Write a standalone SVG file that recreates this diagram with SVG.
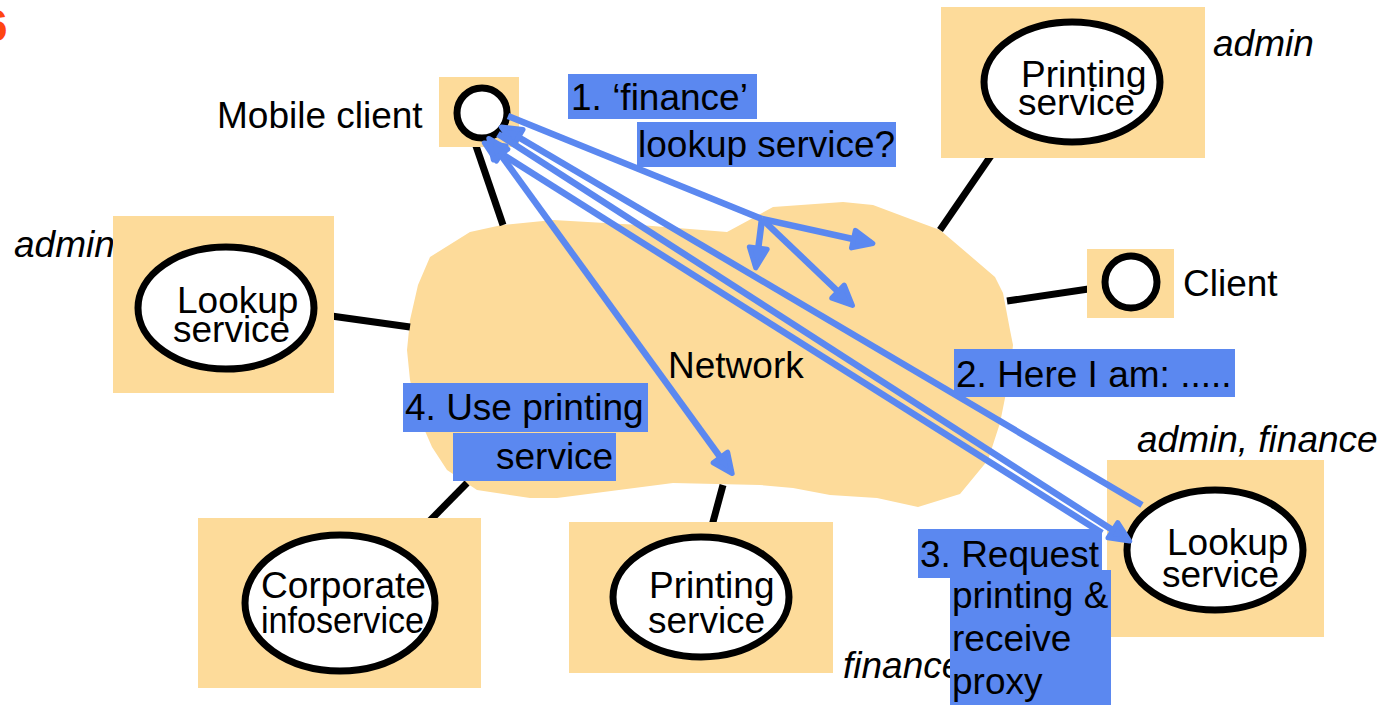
<svg xmlns="http://www.w3.org/2000/svg" width="1384" height="705" viewBox="0 0 1384 705">
<style>
  text { font-family: "Liberation Sans", Arial, Helvetica, sans-serif; font-size: 37px; fill: #000; }
  .it { font-style: italic; }
  .bg { fill: #fddb9a; }
  .node { fill: #fff; stroke: #000; stroke-width: 7; }
  .conn { stroke: #000; stroke-width: 7; fill: none; }
  .msg { stroke: #5b88f0; stroke-width: 6.5; fill: none; }
  .lbl { fill: #5b88f0; }
</style>
<defs>
  <marker id="ah" viewBox="-5 -15 32 30" markerWidth="32" markerHeight="30" refX="18" refY="0" orient="auto-start-reverse" markerUnits="userSpaceOnUse">
    <path d="M0,-9 L20,0 L0,9 Z" fill="#5b88f0" stroke="#5b88f0" stroke-width="5" stroke-linejoin="round"/>
  </marker>
</defs>

<text x="-17" y="41" style="font-size:44px;font-weight:bold;fill:#ff4411">6</text>

<g id="network">
  <polygon class="bg" points="430,257 470,232 502,225 553,220 640,225 727,232 773,207 843,202 873,205 913,220 940,230 967,253 995,277 1003,293 1010,330 1013,345 1010,373 1000,423 988,460 960,494 918,507 877,498 830,495 793,488 760,485 673,483 557,498 530,498 477,490 447,470 432,447 418,415 410,380 407,350 410,320 418,285"/>
  <text x="668" y="378">Network</text>
</g>

<g id="connectors">
  <line class="conn" x1="475" y1="143" x2="503" y2="225"/>
  <line class="conn" x1="1010" y1="128" x2="940" y2="230"/>
  <line class="conn" x1="1102" y1="287" x2="1007" y2="301"/>
  <line class="conn" x1="317" y1="314" x2="410" y2="327"/>
  <line class="conn" x1="467" y1="483" x2="403" y2="548"/>
  <line class="conn" x1="723" y1="485" x2="710" y2="533"/>
</g>

<g id="mobile-client">
  <rect class="bg" x="439" y="77" width="80" height="70"/>
  <circle class="node" cx="482" cy="113" r="25"/>
  <text x="217" y="128">Mobile client</text>
</g>

<g id="printing-service-admin">
  <rect class="bg" x="941" y="7" width="264" height="151"/>
  <ellipse class="node" cx="1072" cy="82" rx="88" ry="60"/>
  <text x="1021" y="87">Printing</text>
  <text x="1018" y="115">service</text>
  <text class="it" x="1213" y="56">admin</text>
</g>

<g id="client">
  <rect class="bg" x="1087" y="249" width="87" height="69"/>
  <circle class="node" cx="1131" cy="282" r="26"/>
  <text x="1183" y="296">Client</text>
</g>

<g id="lookup-service-admin">
  <text class="it" x="14" y="257">admin</text>
  <rect class="bg" x="113" y="216" width="221" height="177"/>
  <ellipse class="node" cx="226" cy="308" rx="88" ry="61"/>
  <text x="177" y="313">Lookup</text>
  <text x="173" y="342">service</text>
</g>

<g id="corporate-infoservice">
  <rect class="bg" x="198" y="518" width="283" height="170"/>
  <ellipse class="node" cx="340" cy="603" rx="95" ry="68"/>
  <text x="261" y="598" textLength="165" lengthAdjust="spacingAndGlyphs">Corporate</text>
  <text x="261" y="633" textLength="163" lengthAdjust="spacingAndGlyphs">infoservice</text>
</g>

<g id="printing-service-finance">
  <rect class="bg" x="569" y="522" width="264" height="151"/>
  <ellipse class="node" cx="701" cy="597" rx="88" ry="60"/>
  <text x="649" y="598">Printing</text>
  <text x="648" y="633">service</text>
  <text class="it" x="843" y="678">finance</text>
</g>

<g id="lookup-service-finance">
  <text class="it" x="1137" y="452">admin, finance</text>
  <rect class="bg" x="1107" y="460" width="217" height="177"/>
  <ellipse class="node" cx="1215" cy="550" rx="88" ry="60"/>
  <text x="1167" y="555">Lookup</text>
  <text x="1162" y="587">service</text>
</g>

<g id="messages">
  <line class="msg" x1="508" y1="116" x2="762" y2="219"/>
  <line class="msg" x1="762" y1="219" x2="871" y2="243" marker-end="url(#ah)"/>
  <line class="msg" x1="762" y1="219" x2="756" y2="266" marker-end="url(#ah)"/>
  <line class="msg" x1="762" y1="219" x2="851" y2="304" marker-end="url(#ah)"/>
  <line class="msg" x1="1142" y1="505" x2="503" y2="128" marker-end="url(#ah)"/>
  <line class="msg" x1="498" y1="134" x2="1128" y2="540" marker-end="url(#ah)"/>
  <line class="msg" x1="1102" y1="533" x2="486" y2="144" marker-end="url(#ah)"/>
  <line class="msg" x1="490" y1="140" x2="731" y2="472" marker-start="url(#ah)" marker-end="url(#ah)"/>
</g>

<g id="labels">
  <rect class="lbl" x="568" y="74" width="189" height="45"/>
  <text x="571" y="110">1. ‘finance’</text>
  <rect class="lbl" x="637" y="122" width="259" height="45"/>
  <text x="638" y="157">lookup service?</text>
  <rect class="lbl" x="954" y="349" width="281" height="48"/>
  <text x="956" y="387">2. Here I am: .....</text>
  <rect class="lbl" x="918" y="529" width="184" height="49"/>
  <rect class="lbl" x="950" y="570" width="161" height="135"/>
  <text x="920" y="567">3. Request</text>
  <text x="952" y="608">printing &amp;</text>
  <text x="952" y="651">receive</text>
  <text x="952" y="694">proxy</text>
  <rect class="lbl" x="403" y="383" width="245" height="49"/>
  <text x="405" y="420">4. Use printing</text>
  <rect class="lbl" x="453" y="433" width="163" height="48"/>
  <text x="496" y="469">service</text>
</g>
</svg>
